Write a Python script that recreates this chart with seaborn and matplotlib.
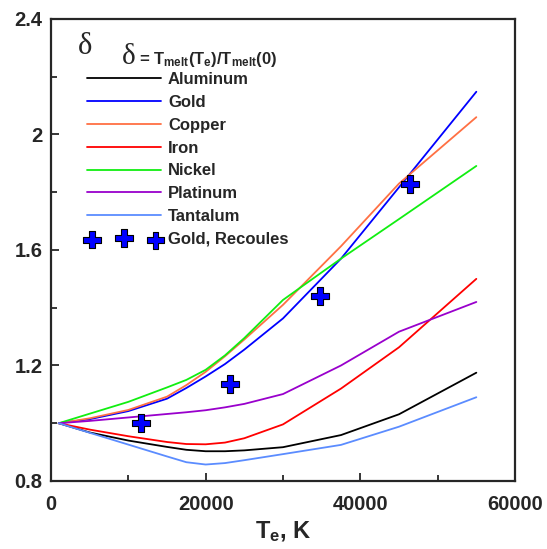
import numpy as np
import pandas as pd
import matplotlib
matplotlib.use('Agg')
import matplotlib.pyplot as plt
import seaborn as sns
from matplotlib.ticker import FixedLocator

# --------------------------------------------------
# data
# --------------------------------------------------
te = [1000, 5000, 10000, 15000, 17500, 20000, 22500, 25000, 30000, 37500, 45000, 55000]

aluminum = [1.0, 0.968, 0.940, 0.918, 0.908, 0.903, 0.903, 0.906, 0.917, 0.959, 1.031, 1.175]
gold = [1.0, 1.014, 1.042, 1.085, 1.122, 1.162, 1.205, 1.255, 1.363, 1.570, 1.817, 2.148]
copper = [1.0, 1.017, 1.046, 1.092, 1.132, 1.178, 1.232, 1.290, 1.410, 1.613, 1.830, 2.060]
iron = [1.0, 0.978, 0.955, 0.935, 0.928, 0.927, 0.933, 0.948, 0.996, 1.120, 1.263, 1.500]
nickel = [1.0, 1.033, 1.074, 1.124, 1.150, 1.185, 1.235, 1.295, 1.427, 1.570, 1.707, 1.891]
platinum = [1.0, 1.008, 1.020, 1.032, 1.038, 1.045, 1.055, 1.067, 1.101, 1.200, 1.317, 1.420]
tantalum = [1.0, 0.967, 0.926, 0.885, 0.865, 0.857, 0.862, 0.872, 0.893, 0.925, 0.988, 1.090]

metals = ['Aluminum', 'Gold', 'Copper', 'Iron', 'Nickel', 'Platinum', 'Tantalum']
colors = ['black', '#0000ff', '#ff7043', '#ff0000', '#11ee11', '#9900cc', '#5b8cff']

recoules_te = [11605, 23210, 34815, 46420]
recoules_delta = [1.0, 1.136, 1.44, 1.829]

series = [aluminum, gold, copper, iron, nickel, platinum, tantalum]
df = pd.DataFrame({
    'Te': te * len(metals),
    'delta': sum(series, []),
    'metal': np.repeat(metals, len(te)),
})
rec = pd.DataFrame({'Te': recoules_te, 'delta': recoules_delta})

# --------------------------------------------------
# plot
# --------------------------------------------------
sns.set_style('ticks')
plt.rcParams['font.family'] = ['Liberation Sans', 'DejaVu Sans']
plt.rcParams['font.weight'] = 'bold'
plt.rcParams['mathtext.fontset'] = 'custom'
plt.rcParams['mathtext.rm'] = 'Liberation Sans:bold'
plt.rcParams['mathtext.it'] = 'Liberation Sans:bold'
plt.rcParams['mathtext.bf'] = 'Liberation Sans:bold'

fig = plt.figure(figsize=(5.47, 5.49), dpi=100)
ax = fig.add_axes([0.0932, 0.1239, 0.8483, 0.8415])

sns.lineplot(data=df, x='Te', y='delta', hue='metal', hue_order=metals,
             palette=dict(zip(metals, colors)), estimator=None, sort=False,
             linewidth=1.3, ax=ax)
sns.scatterplot(data=rec, x='Te', y='delta', marker='P', s=160, color='#0000ff',
                edgecolor='black', linewidth=0.8, label='Gold, Recoules', ax=ax, zorder=5)

ax.set_xlim(0, 60000)
ax.set_ylim(0.8, 2.4)
ax.xaxis.set_major_locator(FixedLocator([0, 20000, 40000, 60000]))
ax.xaxis.set_minor_locator(FixedLocator([10000, 30000, 50000]))
ax.yaxis.set_major_locator(FixedLocator([0.8, 1.2, 1.6, 2.0, 2.4]))
ax.yaxis.set_minor_locator(FixedLocator([1.0, 1.4, 1.8, 2.2]))
ax.set_yticklabels(['0.8', '1.2', '1.6', '2', '2.4'])
ax.set_xticklabels(['0', '20000', '40000', '60000'])
ax.tick_params(which='major', direction='in', length=6, width=1.3, labelsize=14.5)
ax.tick_params(which='minor', direction='in', length=4, width=1.3)
ax.tick_params(axis='x', which='major', pad=10)
ax.tick_params(axis='y', which='major', pad=6)
for lab in ax.get_xticklabels() + ax.get_yticklabels():
    lab.set_fontweight('bold')
for sp in ax.spines.values():
    sp.set_linewidth(1.6)
    sp.set_visible(True)

ax.set_xlabel(r'T$_{\rm e}$, K', fontsize=17, fontweight='bold', labelpad=4)
ax.set_ylabel('')

ax.text(0.058, 0.94, 'δ', transform=ax.transAxes, fontsize=22,
        family='Liberation Serif', fontweight='normal', ha='left', va='center')
ax.text(0.152, 0.918, 'δ', transform=ax.transAxes, fontsize=21,
        family='Liberation Serif', fontweight='normal', ha='left', va='center')
ax.text(0.19, 0.912, r'= T$_{\rm melt}$(T$_{\rm e}$)/T$_{\rm melt}$(0)',
        transform=ax.transAxes, fontsize=12, fontweight='bold', ha='left', va='center')

handles, labels = ax.get_legend_handles_labels()
ax.legend(handles, labels, loc='upper left', bbox_to_anchor=(0.078, 0.885),
          frameon=False, handlelength=4.4, handletextpad=0.45,
          labelspacing=0.47, scatterpoints=3, borderaxespad=0, borderpad=0,
          prop={'weight': 'bold', 'size': 12})

fig.savefig('out.png', dpi=100)
